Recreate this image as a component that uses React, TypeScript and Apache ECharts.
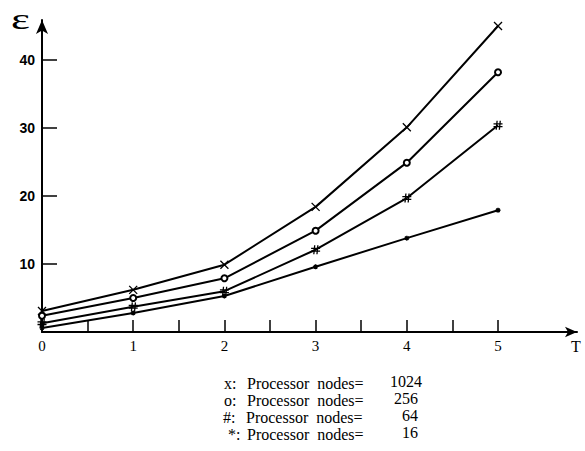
import React, { useEffect, useRef } from "react";
import * as echarts from "echarts";

const xValues = [0, 1, 2, 3, 4, 5];
const nodes1024 = [3.1, 6.2, 9.9, 18.4, 30.1, 45.0];
const nodes256 = [2.4, 5.0, 7.9, 14.9, 24.9, 38.2];
const nodes64 = [1.3, 3.7, 6.0, 12.1, 19.7, 30.4];
const nodes16 = [0.6, 2.8, 5.3, 9.6, 13.8, 17.9];

const xTickValues = [0.5, 1, 1.5, 2, 2.5, 3, 3.5, 4, 4.5, 5];
const xLabelValues = [0, 1, 2, 3, 4, 5];
const yTickValues = [10, 20, 30, 40];

const legendPrefixes = ["x:", "o:", "#:", "*:"];
const legendTexts = ["Processor  nodes=", "Processor  nodes=", "Processor  nodes=", "Processor  nodes="];
const legendNumbers = ["1024", "256", "64", "16"];

const X_MARK = "path://M0,0L10,10M10,0L0,10";
const HASH_MARK = "path://M4,0L3,10M7.5,0L6.5,10M0,3.5L10,3.5M0,6.5L10,6.5";
const STAR_MARK = "path://M5,0L5,10M0,5L10,5M1.5,1.5L8.5,8.5M8.5,1.5L1.5,8.5";

export default function App() {
  const ref = useRef<HTMLDivElement>(null);
  useEffect(() => {
    if (!ref.current) return;
    const chart = echarts.init(ref.current, null, { renderer: "svg" });
    const mk = (data: number[], symbol: string, size: number, bw: number) => ({
      type: "line",
      data: xValues.map((x, i) => [x, data[i]]),
      symbol,
      symbolSize: size,
      showAllSymbol: true,
      lineStyle: { color: "#000", width: 2 },
      itemStyle: { color: "#000", borderColor: "#000", borderWidth: bw },
      z: 3,
    });
    const font = "16px 'Liberation Serif'";
    const legendX = [224, 224, 223, 228];
    const textX = [247, 247, 246, 247];
    const numX = [390, 394, 402, 402];
    const legendY = [384, 401, 418, 435];
    const graphics: any[] = [];
    legendPrefixes.forEach((p, i) => {
      graphics.push({
        type: "text",
        left: legendX[i],
        top: legendY[i] - 9,
        style: { text: p, font, fill: "#000" },
      });
      graphics.push({
        type: "text",
        left: textX[i],
        top: legendY[i] - 9,
        style: { text: legendTexts[i], font, fill: "#000" },
      });
      graphics.push({
        type: "text",
        left: numX[i],
        top: legendY[i] - 11,
        style: { text: legendNumbers[i], font, fill: "#000" },
      });
    });
    graphics.push({
      type: "text",
      x: 11,
      y: 4,
      scaleX: 1.5,
      style: { text: "ε", font: "30px 'Liberation Serif'", fill: "#000" },
    });
    graphics.push({
      type: "text",
      left: 571,
      top: 338,
      style: { text: "T", font: "16px 'Liberation Serif'", fill: "#000" },
    });
    chart.setOption({
      animation: false,
      backgroundColor: "#fff",
      grid: { left: 42, right: 8, top: 20, bottom: 119 },
      xAxis: {
        type: "value",
        min: 0,
        max: 5.866,
        splitLine: { show: false },
        axisLine: {
          show: true,
          onZero: false,
          symbol: ["none", "arrow"],
          symbolSize: [8, 12],
          lineStyle: { color: "#000", width: 2 },
        },
        axisTick: {
          show: true,
          inside: true,
          length: 12,
          customValues: xTickValues,
          lineStyle: { color: "#000", width: 1.5 },
        },
        axisLabel: {
          customValues: xLabelValues,
          margin: 6,
          color: "#000",
          fontFamily: "Liberation Serif",
          fontSize: 15,
        },
      },
      yAxis: {
        type: "value",
        min: 0,
        max: 45.88,
        splitLine: { show: false },
        axisLine: {
          show: true,
          symbol: ["none", "arrow"],
          symbolSize: [9, 14],
          lineStyle: { color: "#000", width: 2 },
        },
        axisTick: {
          show: true,
          inside: true,
          length: 15,
          customValues: yTickValues,
          lineStyle: { color: "#000", width: 1.5 },
        },
        axisLabel: {
          customValues: yTickValues,
          margin: 7,
          color: "#000",
          fontFamily: "Liberation Sans",
          fontSize: 14,
          fontWeight: "bold",
        },
      },
      series: [
        mk(nodes1024, X_MARK, 8, 1.3),
        mk(nodes256, "emptyCircle", 6, 1.1),
        mk(nodes64, HASH_MARK, 9, 1.3),
        mk(nodes16, STAR_MARK, 5, 1.3),
      ],
      graphic: graphics,
    });
    return () => chart.dispose();
  }, []);
  return (
    <div
      ref={ref}
      style={{ position: "fixed", left: 0, top: 0, width: 585, height: 451, background: "#fff" }}
    />
  );
}
